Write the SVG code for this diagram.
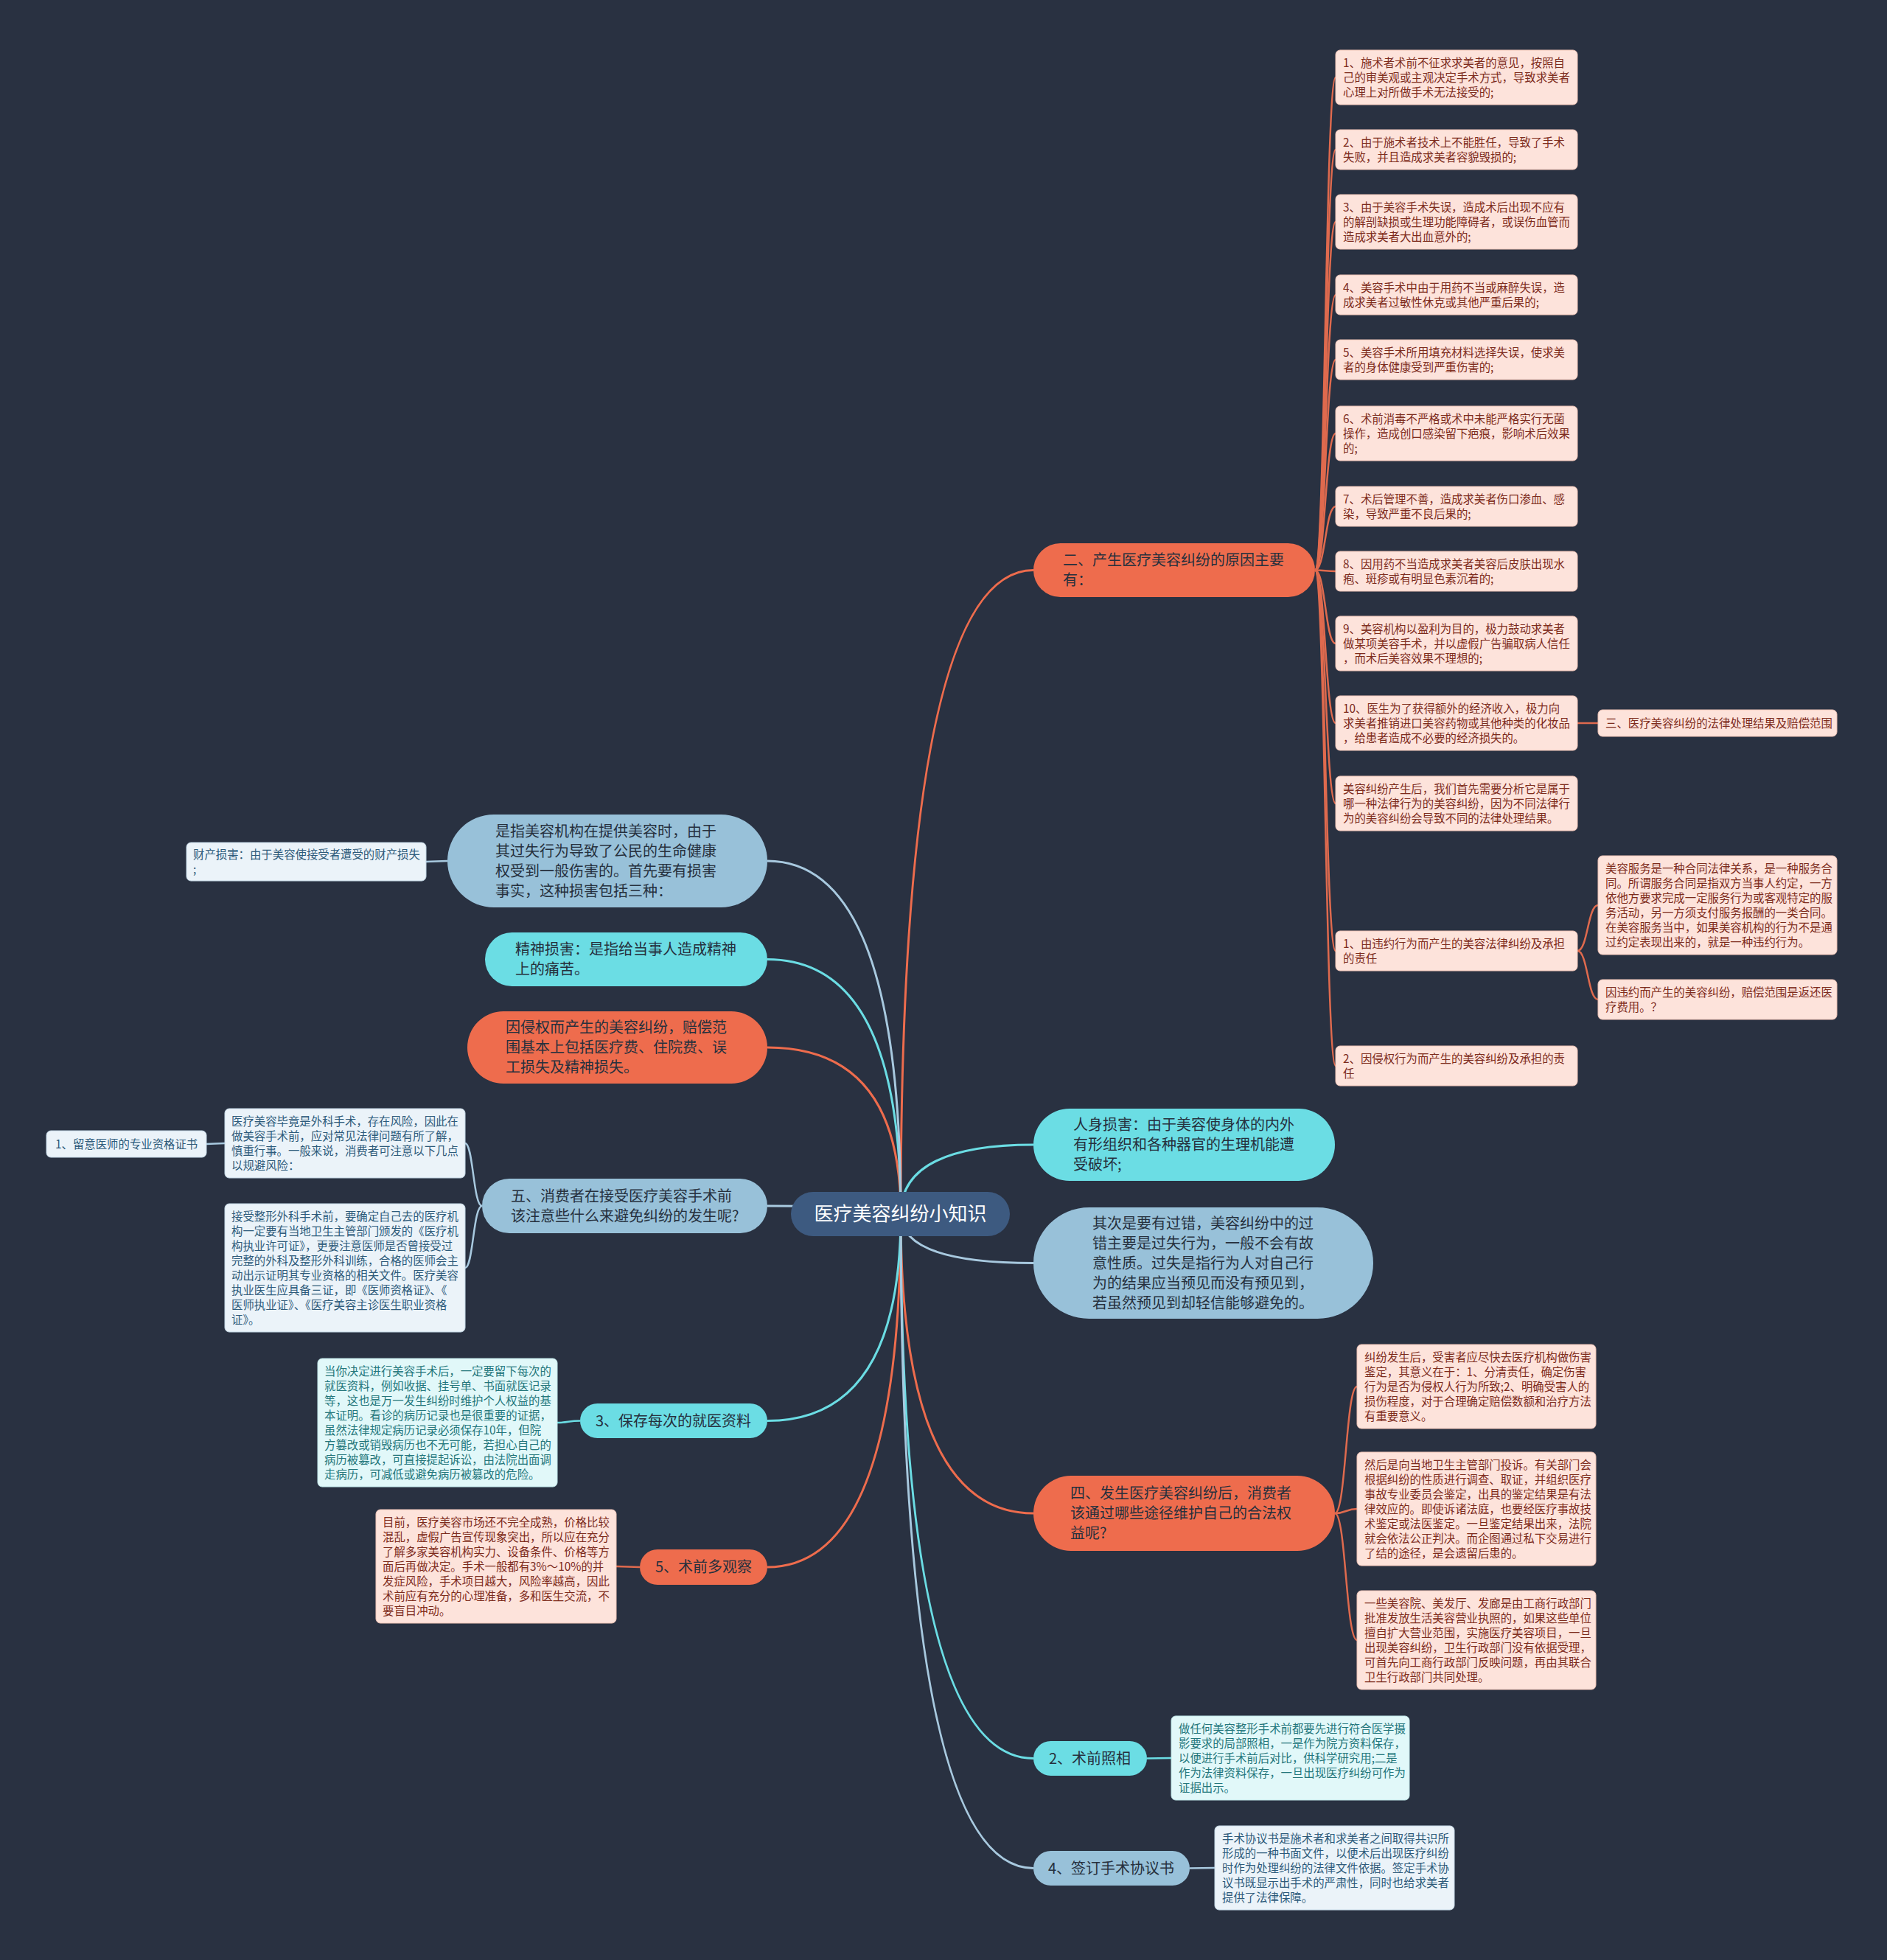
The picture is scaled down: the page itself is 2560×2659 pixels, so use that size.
<svg xmlns="http://www.w3.org/2000/svg" width="2560" height="2659" viewBox="0 0 2560 2659">
<style>
text{font-family:"Noto Sans CJK SC","Noto Sans",sans-serif}
.lf text{font-size:15.4px}
.pl text{font-size:20px;fill:#26303d}
.lO{fill:#fde3db;stroke:#eec3b6;stroke-width:1}
.lC{fill:#e1f8f9;stroke:#bfe6e8;stroke-width:1}
.lB{fill:#ebf3f9;stroke:#c3d7e5;stroke-width:1}
.tO{fill:#7d2b1c}
.tC{fill:#23767b}
.tB{fill:#2d5a7a}
.pO{fill:#ee6c4d}
.pC{fill:#6bdde4}
.pB{fill:#98c1d9}
.cm{fill:none;stroke-width:3}
.cs{fill:none;stroke-width:2.5}
.sO{stroke:#ee6c4d}
.sO2{stroke:#df6a4e}
.sC{stroke:#6bdde4}
.sB{stroke:#a8c9df}
</style>
<rect width="2560" height="2659" fill="#293141"/>
<g id="connectors">
<path class="cm sO" d="M1222,1647 Q1222,773.5 1402,773.5"/>
<path class="cm sO" d="M1222,1647 Q1222,2053 1402,2053"/>
<path class="cm sO" d="M1222,1647 Q1222,1421 1041,1421"/>
<path class="cm sO" d="M1222,1647 Q1222,2126 1041,2126"/>
<path class="cm sC" d="M1222,1647 Q1222,1553 1402,1553"/>
<path class="cm sC" d="M1222,1647 Q1222,2385.5 1402,2385.5"/>
<path class="cm sC" d="M1222,1647 Q1222,1301.5 1041,1301.5"/>
<path class="cm sC" d="M1222,1647 Q1222,1927.5 1041,1927.5"/>
<path class="cm sB" d="M1222,1647 Q1222,1713.5 1402,1713.5"/>
<path class="cm sB" d="M1222,1647 Q1222,2534.5 1402,2534.5"/>
<path class="cm sB" d="M1222,1647 Q1222,1168 1041,1168"/>
<path class="cm sB" d="M1222,1647 Q1222,1636 1041,1636"/>
<path class="cs sO2" d="M1784,773.5 C1798,773.5 1798,105 1812,105"/>
<path class="cs sO2" d="M1784,773.5 C1798,773.5 1798,203 1812,203"/>
<path class="cs sO2" d="M1784,773.5 C1798,773.5 1798,301 1812,301"/>
<path class="cs sO2" d="M1784,773.5 C1798,773.5 1798,400 1812,400"/>
<path class="cs sO2" d="M1784,773.5 C1798,773.5 1798,488 1812,488"/>
<path class="cs sO2" d="M1784,773.5 C1798,773.5 1798,588 1812,588"/>
<path class="cs sO2" d="M1784,773.5 C1798,773.5 1798,687 1812,687"/>
<path class="cs sO2" d="M1784,773.5 C1798,773.5 1798,775 1812,775"/>
<path class="cs sO2" d="M1784,773.5 C1798,773.5 1798,873 1812,873"/>
<path class="cs sO2" d="M1784,773.5 C1798,773.5 1798,981 1812,981"/>
<path class="cs sO2" d="M1784,773.5 C1798,773.5 1798,1090 1812,1090"/>
<path class="cs sO2" d="M1784,773.5 C1798,773.5 1798,1290 1812,1290"/>
<path class="cs sO2" d="M1784,773.5 C1798,773.5 1798,1446 1812,1446"/>
<path class="cs sO2" d="M2140,981 L2168,981"/>
<path class="cs sO2" d="M2140,1290 C2154,1290 2154,1228 2168,1228"/>
<path class="cs sO2" d="M2140,1290 C2154,1290 2154,1356 2168,1356"/>
<path class="cs sO2" d="M1811,2053 C1826,2053 1826,1881 1841,1881"/>
<path class="cs sO2" d="M1811,2053 C1826,2053 1826,2047 1841,2047"/>
<path class="cs sO2" d="M1811,2053 C1826,2053 1826,2225 1841,2225"/>
<path class="cs sO2" d="M868,2126 L836,2125"/>
<path class="cs sC" d="M787,1927.5 C771,1927.5 771,1930 756,1930"/>
<path class="cs sC" d="M1556,2385.5 L1589,2385"/>
<path class="cs sB" d="M607,1168 C592,1168 592,1169 578,1169"/>
<path class="cs sB" d="M654,1636 C642,1636 642,1551 631,1551"/>
<path class="cs sB" d="M654,1636 C642,1636 642,1720 631,1720"/>
<path class="cs sB" d="M305,1551 C292,1551 292,1552 280,1552"/>
<path class="cs sB" d="M1614,2534.5 L1648,2534"/>
</g>
<g id="center">
<rect x="1073" y="1617" width="297" height="60" rx="30" fill="#3d5a80"/>
<text x="1221.5" y="1656" text-anchor="middle" font-size="26" fill="#ffffff">医疗美容纠纷小知识</text>
</g>
<g id="n2" class="pl">
<rect class="pO" x="1402" y="737" width="382" height="73" rx="36.5"/>
<text x="1442" y="767"><tspan x="1442">二、产生医疗美容纠纷的原因主要</tspan><tspan x="1442" dy="27">有：</tspan></text>
</g>
<g id="r1" class="lf"><rect class="lO" x="1812" y="68" width="328" height="74" rx="6"/>
<text class="tO" y="90.5"><tspan x="1822">1、施术者术前不征求求美者的意见，按照自</tspan><tspan x="1822" dy="20">己的审美观或主观决定手术方式，导致求美者</tspan><tspan x="1822" dy="20">心理上对所做手术无法接受的;</tspan></text></g>
<g id="r2" class="lf"><rect class="lO" x="1812" y="176" width="328" height="54" rx="6"/>
<text class="tO" y="198.5"><tspan x="1822">2、由于施术者技术上不能胜任，导致了手术</tspan><tspan x="1822" dy="20">失败，并且造成求美者容貌毁损的;</tspan></text></g>
<g id="r3" class="lf"><rect class="lO" x="1812" y="264" width="328" height="74" rx="6"/>
<text class="tO" y="286.5"><tspan x="1822">3、由于美容手术失误，造成术后出现不应有</tspan><tspan x="1822" dy="20">的解剖缺损或生理功能障碍者，或误伤血管而</tspan><tspan x="1822" dy="20">造成求美者大出血意外的;</tspan></text></g>
<g id="r4" class="lf"><rect class="lO" x="1812" y="373" width="328" height="54" rx="6"/>
<text class="tO" y="395.5"><tspan x="1822">4、美容手术中由于用药不当或麻醉失误，造</tspan><tspan x="1822" dy="20">成求美者过敏性休克或其他严重后果的;</tspan></text></g>
<g id="r5" class="lf"><rect class="lO" x="1812" y="461" width="328" height="54" rx="6"/>
<text class="tO" y="483.5"><tspan x="1822">5、美容手术所用填充材料选择失误，使求美</tspan><tspan x="1822" dy="20">者的身体健康受到严重伤害的;</tspan></text></g>
<g id="r6" class="lf"><rect class="lO" x="1812" y="551" width="328" height="74" rx="6"/>
<text class="tO" y="573.5"><tspan x="1822">6、术前消毒不严格或术中未能严格实行无菌</tspan><tspan x="1822" dy="20">操作，造成创口感染留下疤痕，影响术后效果</tspan><tspan x="1822" dy="20">的;</tspan></text></g>
<g id="r7" class="lf"><rect class="lO" x="1812" y="660" width="328" height="54" rx="6"/>
<text class="tO" y="682.5"><tspan x="1822">7、术后管理不善，造成求美者伤口渗血、感</tspan><tspan x="1822" dy="20">染，导致严重不良后果的;</tspan></text></g>
<g id="r8" class="lf"><rect class="lO" x="1812" y="748" width="328" height="54" rx="6"/>
<text class="tO" y="770.5"><tspan x="1822">8、因用药不当造成求美者美容后皮肤出现水</tspan><tspan x="1822" dy="20">疱、斑疹或有明显色素沉着的;</tspan></text></g>
<g id="r9" class="lf"><rect class="lO" x="1812" y="836" width="328" height="74" rx="6"/>
<text class="tO" y="858.5"><tspan x="1822">9、美容机构以盈利为目的，极力鼓动求美者</tspan><tspan x="1822" dy="20">做某项美容手术，并以虚假广告骗取病人信任</tspan><tspan x="1822" dy="20">，而术后美容效果不理想的;</tspan></text></g>
<g id="r10" class="lf"><rect class="lO" x="1812" y="944" width="328" height="74" rx="6"/>
<text class="tO" y="966.5"><tspan x="1822">10、医生为了获得额外的经济收入，极力向</tspan><tspan x="1822" dy="20">求美者推销进口美容药物或其他种类的化妆品</tspan><tspan x="1822" dy="20">，给患者造成不必要的经济损失的。</tspan></text></g>
<g id="r11" class="lf"><rect class="lO" x="1812" y="1053" width="328" height="74" rx="6"/>
<text class="tO" y="1075.5"><tspan x="1822">美容纠纷产生后，我们首先需要分析它是属于</tspan><tspan x="1822" dy="20">哪一种法律行为的美容纠纷，因为不同法律行</tspan><tspan x="1822" dy="20">为的美容纠纷会导致不同的法律处理结果。</tspan></text></g>
<g id="r12" class="lf"><rect class="lO" x="1812" y="1263" width="328" height="54" rx="6"/>
<text class="tO" y="1285.5"><tspan x="1822">1、由违约行为而产生的美容法律纠纷及承担</tspan><tspan x="1822" dy="20">的责任</tspan></text></g>
<g id="r13" class="lf"><rect class="lO" x="1812" y="1419" width="328" height="54" rx="6"/>
<text class="tO" y="1441.5"><tspan x="1822">2、因侵权行为而产生的美容纠纷及承担的责</tspan><tspan x="1822" dy="20">任</tspan></text></g>
<g id="r10a" class="lf"><rect class="lO" x="2168" y="963" width="324" height="36" rx="6"/>
<text class="tO" y="986.5"><tspan x="2178">三、医疗美容纠纷的法律处理结果及赔偿范围</tspan></text></g>
<g id="r12a" class="lf"><rect class="lO" x="2168" y="1161" width="324" height="134" rx="6"/>
<text class="tO" y="1183.5"><tspan x="2178">美容服务是一种合同法律关系，是一种服务合</tspan><tspan x="2178" dy="20">同。所谓服务合同是指双方当事人约定，一方</tspan><tspan x="2178" dy="20">依他方要求完成一定服务行为或客观特定的服</tspan><tspan x="2178" dy="20">务活动，另一方须支付服务报酬的一类合同。</tspan><tspan x="2178" dy="20">在美容服务当中，如果美容机构的行为不是通</tspan><tspan x="2178" dy="20">过约定表现出来的，就是一种违约行为。</tspan></text></g>
<g id="r12b" class="lf"><rect class="lO" x="2168" y="1329" width="324" height="54" rx="6"/>
<text class="tO" y="1351.5"><tspan x="2178">因违约而产生的美容纠纷，赔偿范围是返还医</tspan><tspan x="2178" dy="20">疗费用。？</tspan></text></g>
<g id="nBody" class="pl">
<rect class="pC" x="1402" y="1504" width="409" height="98" rx="49"/>
<text y="1533"><tspan x="1456">人身损害：由于美容使身体的内外</tspan><tspan x="1456" dy="27">有形组织和各种器官的生理机能遭</tspan><tspan x="1456" dy="27">受破坏;</tspan></text>
</g>
<g id="nFault" class="pl">
<rect class="pB" x="1402" y="1638" width="461" height="151" rx="75.5"/>
<text y="1666.5"><tspan x="1482">其次是要有过错，美容纠纷中的过</tspan><tspan x="1482" dy="27">错主要是过失行为，一般不会有故</tspan><tspan x="1482" dy="27">意性质。过失是指行为人对自己行</tspan><tspan x="1482" dy="27">为的结果应当预见而没有预见到，</tspan><tspan x="1482" dy="27">若虽然预见到却轻信能够避免的。</tspan></text>
</g>
<g id="n4" class="pl">
<rect class="pO" x="1402" y="2002" width="409" height="102" rx="51"/>
<text y="2033"><tspan x="1452">四、发生医疗美容纠纷后，消费者</tspan><tspan x="1452" dy="27">该通过哪些途径维护自己的合法权</tspan><tspan x="1452" dy="27">益呢?</tspan></text>
</g>
<g id="n4a" class="lf"><rect class="lO" x="1841" y="1824" width="324" height="114" rx="6"/>
<text class="tO" y="1846.5"><tspan x="1851">纠纷发生后，受害者应尽快去医疗机构做伤害</tspan><tspan x="1851" dy="20">鉴定，其意义在于：1、分清责任，确定伤害</tspan><tspan x="1851" dy="20">行为是否为侵权人行为所致;2、明确受害人的</tspan><tspan x="1851" dy="20">损伤程度，对于合理确定赔偿数额和治疗方法</tspan><tspan x="1851" dy="20">有重要意义。</tspan></text></g>
<g id="n4b" class="lf"><rect class="lO" x="1841" y="1970" width="324" height="154" rx="6"/>
<text class="tO" y="1992.5"><tspan x="1851">然后是向当地卫生主管部门投诉。有关部门会</tspan><tspan x="1851" dy="20">根据纠纷的性质进行调查、取证，并组织医疗</tspan><tspan x="1851" dy="20">事故专业委员会鉴定，出具的鉴定结果是有法</tspan><tspan x="1851" dy="20">律效应的。即使诉诸法庭，也要经医疗事故技</tspan><tspan x="1851" dy="20">术鉴定或法医鉴定。一旦鉴定结果出来，法院</tspan><tspan x="1851" dy="20">就会依法公正判决。而企图通过私下交易进行</tspan><tspan x="1851" dy="20">了结的途径，是会遗留后患的。</tspan></text></g>
<g id="n4c" class="lf"><rect class="lO" x="1841" y="2158" width="324" height="134" rx="6"/>
<text class="tO" y="2180.5"><tspan x="1851">一些美容院、美发厅、发廊是由工商行政部门</tspan><tspan x="1851" dy="20">批准发放生活美容营业执照的，如果这些单位</tspan><tspan x="1851" dy="20">擅自扩大营业范围，实施医疗美容项目，一旦</tspan><tspan x="1851" dy="20">出现美容纠纷，卫生行政部门没有依据受理，</tspan><tspan x="1851" dy="20">可首先向工商行政部门反映问题，再由其联合</tspan><tspan x="1851" dy="20">卫生行政部门共同处理。</tspan></text></g>
<g id="nPhoto" class="pl">
<rect class="pC" x="1402" y="2362" width="154" height="47" rx="23.5"/>
<text x="1423" y="2392.5">2、术前照相</text>
</g>
<g id="nPhotoLeaf" class="lf"><rect class="lC" x="1589" y="2328" width="323" height="114" rx="6"/>
<text class="tC" y="2350.5"><tspan x="1599">做任何美容整形手术前都要先进行符合医学摄</tspan><tspan x="1599" dy="20">影要求的局部照相，一是作为院方资料保存，</tspan><tspan x="1599" dy="20">以便进行手术前后对比，供科学研究用;二是</tspan><tspan x="1599" dy="20">作为法律资料保存，一旦出现医疗纠纷可作为</tspan><tspan x="1599" dy="20">证据出示。</tspan></text></g>
<g id="nAgree" class="pl">
<rect class="pB" x="1402" y="2511" width="212" height="47" rx="23.5"/>
<text x="1422" y="2541.5">4、签订手术协议书</text>
</g>
<g id="nAgreeLeaf" class="lf"><rect class="lB" x="1648" y="2477" width="325" height="114" rx="6"/>
<text class="tB" y="2499.5"><tspan x="1658">手术协议书是施术者和求美者之间取得共识所</tspan><tspan x="1658" dy="20">形成的一种书面文件，以便术后出现医疗纠纷</tspan><tspan x="1658" dy="20">时作为处理纠纷的法律文件依据。签定手术协</tspan><tspan x="1658" dy="20">议书既显示出手术的严肃性，同时也给求美者</tspan><tspan x="1658" dy="20">提供了法律保障。</tspan></text></g>
<g id="nDef" class="pl">
<rect class="pB" x="607" y="1105" width="434" height="126" rx="63"/>
<text y="1134.5"><tspan x="672">是指美容机构在提供美容时，由于</tspan><tspan x="672" dy="27">其过失行为导致了公民的生命健康</tspan><tspan x="672" dy="27">权受到一般伤害的。首先要有损害</tspan><tspan x="672" dy="27">事实，这种损害包括三种：</tspan></text>
</g>
<g id="nProp" class="lf"><rect class="lB" x="253" y="1143" width="325" height="52" rx="6"/>
<text class="tB" y="1164.5"><tspan x="262">财产损害：由于美容使接受者遭受的财产损失</tspan><tspan x="262" dy="20">;</tspan></text></g>
<g id="nMind" class="pl">
<rect class="pC" x="658" y="1265" width="383" height="73" rx="36.5"/>
<text y="1295"><tspan x="699">精神损害：是指给当事人造成精神</tspan><tspan x="699" dy="27">上的痛苦。</tspan></text>
</g>
<g id="nTort" class="pl">
<rect class="pO" x="634" y="1372" width="407" height="98" rx="49"/>
<text y="1401"><tspan x="686">因侵权而产生的美容纠纷，赔偿范</tspan><tspan x="686" dy="27">围基本上包括医疗费、住院费、误</tspan><tspan x="686" dy="27">工损失及精神损失。</tspan></text>
</g>
<g id="n5" class="pl">
<rect class="pB" x="654" y="1599" width="387" height="74" rx="37"/>
<text y="1629.5"><tspan x="693">五、消费者在接受医疗美容手术前</tspan><tspan x="693" dy="27">该注意些什么来避免纠纷的发生呢?</tspan></text>
</g>
<g id="n5a" class="lf"><rect class="lB" x="305" y="1504" width="326" height="94" rx="6"/>
<text class="tB" y="1526.5"><tspan x="314">医疗美容毕竟是外科手术，存在风险，因此在</tspan><tspan x="314" dy="20">做美容手术前，应对常见法律问题有所了解，</tspan><tspan x="314" dy="20">慎重行事。一般来说，消费者可注意以下几点</tspan><tspan x="314" dy="20">以规避风险：</tspan></text></g>
<g id="n5a1" class="lf"><rect class="lB" x="63" y="1534" width="217" height="36" rx="6"/>
<text class="tB" x="75" y="1557.5">1、留意医师的专业资格证书</text></g>
<g id="n5b" class="lf"><rect class="lB" x="305" y="1633" width="326" height="174" rx="6"/>
<text class="tB" y="1655.5"><tspan x="314">接受整形外科手术前，要确定自己去的医疗机</tspan><tspan x="314" dy="20">构一定要有当地卫生主管部门颁发的《医疗机</tspan><tspan x="314" dy="20">构执业许可证》，更要注意医师是否曾接受过</tspan><tspan x="314" dy="20">完整的外科及整形外科训练，合格的医师会主</tspan><tspan x="314" dy="20">动出示证明其专业资格的相关文件。医疗美容</tspan><tspan x="314" dy="20">执业医生应具备三证，即《医师资格证》、《</tspan><tspan x="314" dy="20">医师执业证》、《医疗美容主诊医生职业资格</tspan><tspan x="314" dy="20">证》。</tspan></text></g>
<g id="nRec" class="pl">
<rect class="pC" x="787" y="1904" width="254" height="47" rx="23.5"/>
<text x="808" y="1934.5">3、保存每次的就医资料</text>
</g>
<g id="nRecLeaf" class="lf"><rect class="lC" x="431" y="1843" width="325" height="174" rx="6"/>
<text class="tC" y="1865.5"><tspan x="440">当你决定进行美容手术后，一定要留下每次的</tspan><tspan x="440" dy="20">就医资料，例如收据、挂号单、书面就医记录</tspan><tspan x="440" dy="20">等，这也是万一发生纠纷时维护个人权益的基</tspan><tspan x="440" dy="20">本证明。看诊的病历记录也是很重要的证据，</tspan><tspan x="440" dy="20">虽然法律规定病历记录必须保存10年，但院</tspan><tspan x="440" dy="20">方篡改或销毁病历也不无可能，若担心自己的</tspan><tspan x="440" dy="20">病历被篡改，可直接提起诉讼，由法院出面调</tspan><tspan x="440" dy="20">走病历，可减低或避免病历被篡改的危险。</tspan></text></g>
<g id="nObs" class="pl">
<rect class="pO" x="868" y="2102" width="173" height="48" rx="24"/>
<text x="889" y="2133">5、术前多观察</text>
</g>
<g id="nObsLeaf" class="lf"><rect class="lO" x="510" y="2048" width="326" height="154" rx="6"/>
<text class="tO" y="2070.5"><tspan x="519">目前，医疗美容市场还不完全成熟，价格比较</tspan><tspan x="519" dy="20">混乱，虚假广告宣传现象突出，所以应在充分</tspan><tspan x="519" dy="20">了解多家美容机构实力、设备条件、价格等方</tspan><tspan x="519" dy="20">面后再做决定。手术一般都有3%～10%的并</tspan><tspan x="519" dy="20">发症风险，手术项目越大，风险率越高，因此</tspan><tspan x="519" dy="20">术前应有充分的心理准备，多和医生交流，不</tspan><tspan x="519" dy="20">要盲目冲动。</tspan></text></g>
</svg>
